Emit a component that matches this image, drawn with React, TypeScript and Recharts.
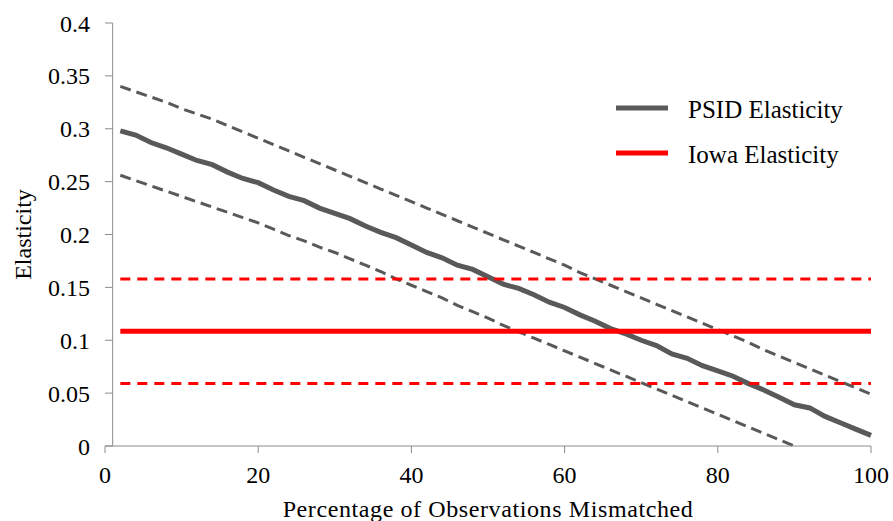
import React from 'react';
import {
  LineChart,
  Line,
  XAxis,
  YAxis,
  Legend,
  ReferenceLine,
} from 'recharts';

// share of observations mismatched (%)
const mismatch = [
  2, 4, 6, 8, 10, 12, 14, 16, 18, 20, 22, 24, 26, 28, 30, 32, 34, 36, 38, 40, 42, 44, 46, 48, 50,
  52, 54, 56, 58, 60, 62, 64, 66, 68, 70, 72, 74, 76, 78, 80, 82, 84, 86, 88, 90, 92, 94, 96, 98, 100,
];

const psid = [
  0.298, 0.294, 0.287, 0.282, 0.276, 0.270, 0.266, 0.259, 0.253, 0.249, 0.242, 0.236, 0.232, 0.225,
  0.220, 0.215, 0.208, 0.202, 0.197, 0.190, 0.183, 0.178, 0.171, 0.167, 0.160, 0.153, 0.149, 0.143,
  0.136, 0.131, 0.124, 0.118, 0.111, 0.106, 0.100, 0.095, 0.087, 0.083, 0.076, 0.071, 0.066, 0.059,
  0.053, 0.046, 0.039, 0.036, 0.028, 0.022, 0.016, 0.010,
];

const psidUpper = [
  0.340, 0.335, 0.330, 0.325, 0.319, 0.314, 0.309, 0.303, 0.297, 0.291, 0.285, 0.279, 0.273, 0.267,
  0.261, 0.255, 0.249, 0.243, 0.237, 0.231, 0.225, 0.219, 0.213, 0.207, 0.201, 0.195, 0.189, 0.183,
  0.177, 0.171, 0.164, 0.158, 0.152, 0.146, 0.140, 0.134, 0.128, 0.122, 0.116, 0.110, 0.104, 0.098,
  0.091, 0.085, 0.079, 0.073, 0.067, 0.061, 0.055, 0.049,
];

// lower band runs into the x axis at 90%
const psidLower = [
  0.256, 0.251, 0.246, 0.241, 0.236, 0.231, 0.226, 0.221, 0.216, 0.211, 0.205, 0.199, 0.194, 0.188,
  0.183, 0.177, 0.171, 0.165, 0.158, 0.152, 0.146, 0.140, 0.133, 0.127, 0.121, 0.114, 0.108, 0.102,
  0.096, 0.090, 0.084, 0.078, 0.072, 0.066, 0.060, 0.054, 0.048, 0.042, 0.036, 0.030, 0.024, 0.018,
  0.012, 0.006, 0.000, null, null, null, null, null,
];

const iowa = 0.1085;
const iowaUpper = 0.158;
const iowaLower = 0.059;

const xTicks = [0, 20, 40, 60, 80, 100];
const yTicks = [0, 0.05, 0.1, 0.15, 0.2, 0.25, 0.3, 0.35, 0.4];
const legendOrder = ['PSID Elasticity', 'Iowa Elasticity'];

const FONT = "'Liberation Serif', 'Times New Roman', serif";
const AXIS = '#8c8c8c';
const GRAY = '#595959';
const RED = '#ff0000';

const rows = mismatch.map((x, i) => ({
  x,
  psid: psid[i],
  psidUpper: psidUpper[i],
  psidLower: psidLower[i],
  iowa,
  iowaUpper,
  iowaLower,
}));

function LegendBox({ payload }: any) {
  const items = (payload || [])
    .filter((p: any) => p.type !== 'none')
    .sort((a: any, b: any) => legendOrder.indexOf(a.value) - legendOrder.indexOf(b.value));
  return (
    <svg width={280} height={90} style={{ overflow: 'visible', display: 'block' }}>
      {items.map((p: any, i: number) => (
        <g key={p.value}>
          <line x1={16} x2={68} y1={23 + i * 45} y2={23 + i * 45} stroke={p.color} strokeWidth={5} />
          <text x={88} y={33 + i * 45} fontSize={25} fontFamily={FONT} fill="#000">
            {p.value}
          </text>
        </g>
      ))}
    </svg>
  );
}

export default function App() {
  return (
    <div style={{ position: 'absolute', left: 0, top: 0, background: '#fff' }}>
      <LineChart
        width={893}
        height={521}
        data={rows}
        margin={{ top: 23, right: 22, left: 0, bottom: 0 }}
      >
        <XAxis
          type="number"
          dataKey="x"
          domain={[0, 100]}
          ticks={xTicks}
          tickSize={7}
          tickMargin={13}
          stroke={AXIS}
          height={75}
          tick={{ fontSize: 24, fontFamily: FONT, fill: '#000' }}
          label={{
            value: 'Percentage of Observations Mismatched',
            position: 'insideBottom',
            offset: 4,
            style: { fontSize: 24, fontFamily: FONT, fill: '#000', letterSpacing: 0.6 },
          }}
        />
        <YAxis
          type="number"
          domain={[0, 0.4]}
          ticks={yTicks}
          width={105}
          axisLine={false}
          tickLine={false}
          tickSize={0}
          tickMargin={15}
          tick={{ fontSize: 24, fontFamily: FONT, fill: '#000' }}
          label={{
            value: 'Elasticity',
            angle: -90,
            position: 'insideLeft',
            offset: 22,
            style: { fontSize: 24, fontFamily: FONT, fill: '#000', textAnchor: 'middle' },
          }}
        />
        {/* vertical axis crosses at x = 1, with its tick marks to the left */}
        <ReferenceLine x={1} stroke={AXIS} />
        {yTicks.map((t) => (
          <ReferenceLine key={t} segment={[{ x: 0, y: t }, { x: 1, y: t }]} stroke={AXIS} />
        ))}
        <Legend
          layout="horizontal"
          align="center"
          verticalAlign="middle"
          content={<LegendBox />}
          wrapperStyle={{ left: 600, top: 85, width: 280, height: 90 }}
        />
        <Line dataKey="psidUpper" type="linear" stroke={GRAY} strokeWidth={3} strokeDasharray="11 6" dot={false} legendType="none" isAnimationActive={false} />
        <Line dataKey="psidLower" type="linear" stroke={GRAY} strokeWidth={3} strokeDasharray="11 6" dot={false} legendType="none" isAnimationActive={false} />
        <Line dataKey="psid" name="PSID Elasticity" type="linear" stroke={GRAY} strokeWidth={5} dot={false} isAnimationActive={false} />
        <Line dataKey="iowaUpper" type="linear" stroke={RED} strokeWidth={3} strokeDasharray="10 7" dot={false} legendType="none" isAnimationActive={false} />
        <Line dataKey="iowaLower" type="linear" stroke={RED} strokeWidth={3} strokeDasharray="10 7" dot={false} legendType="none" isAnimationActive={false} />
        <Line dataKey="iowa" name="Iowa Elasticity" type="linear" stroke={RED} strokeWidth={5} dot={false} isAnimationActive={false} />
      </LineChart>
    </div>
  );
}
